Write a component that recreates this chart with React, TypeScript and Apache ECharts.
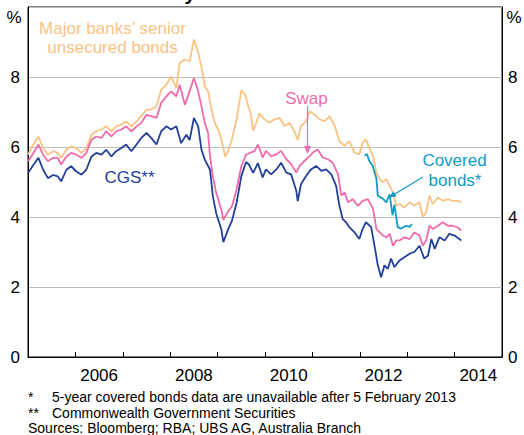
import React, { useEffect, useRef } from "react";
import * as echarts from "echarts";

const FONT = "'Liberation Sans', Arial, Helvetica, sans-serif";

const xTickYears = [2006, 2007, 2008, 2009, 2010, 2011, 2012, 2013, 2014];
const xLabelPositions = [2006.5, 2008.5, 2010.5, 2012.5, 2014.5];
const yTicks = [0, 2, 4, 6, 8];

const majorBanks: [number, number][] = [
  [2005.0, 5.78], [2005.07, 5.97], [2005.22, 6.3], [2005.32, 5.97], [2005.42, 5.78], [2005.53, 5.88],
  [2005.63, 5.83], [2005.7, 5.69], [2005.81, 5.92], [2005.91, 6.02], [2006.02, 5.97], [2006.13, 5.83],
  [2006.23, 5.97], [2006.34, 6.35], [2006.44, 6.45], [2006.55, 6.5], [2006.65, 6.59], [2006.76, 6.45],
  [2006.86, 6.59], [2006.97, 6.64], [2007.07, 6.73], [2007.18, 6.59], [2007.29, 6.73], [2007.39, 6.88],
  [2007.5, 7.07], [2007.6, 7.07], [2007.71, 7.16], [2007.81, 7.64], [2007.92, 7.78], [2008.02, 8.02],
  [2008.13, 7.69], [2008.2, 8.4], [2008.31, 8.5], [2008.41, 8.45], [2008.5, 9.07], [2008.59, 8.69],
  [2008.66, 8.3], [2008.73, 7.73], [2008.8, 7.59], [2008.87, 7.07], [2008.94, 6.69], [2009.01, 6.5],
  [2009.08, 6.21], [2009.16, 5.72], [2009.22, 5.88], [2009.3, 6.21], [2009.4, 6.78], [2009.5, 7.62],
  [2009.58, 7.5], [2009.64, 7.2], [2009.7, 6.95], [2009.75, 6.47], [2009.82, 6.7], [2009.88, 6.96],
  [2009.99, 6.79], [2010.09, 6.69], [2010.2, 6.79], [2010.31, 6.83], [2010.41, 6.6], [2010.52, 6.69],
  [2010.62, 6.45], [2010.69, 6.2], [2010.76, 6.6], [2010.87, 6.74], [2010.94, 7.02], [2011.04, 6.93],
  [2011.15, 6.79], [2011.26, 6.74], [2011.36, 6.88], [2011.47, 6.6], [2011.57, 6.17], [2011.68, 6.03],
  [2011.78, 6.17], [2011.89, 5.84], [2011.99, 5.79], [2012.06, 6.12], [2012.13, 6.22], [2012.2, 5.98],
  [2012.28, 5.74], [2012.35, 5.27], [2012.42, 5.08], [2012.49, 4.99], [2012.56, 5.08], [2012.63, 4.89],
  [2012.7, 4.7], [2012.77, 4.32], [2012.84, 4.37], [2012.94, 4.27], [2013.05, 4.42], [2013.15, 4.32],
  [2013.26, 4.42], [2013.33, 3.99], [2013.4, 4.13], [2013.47, 4.61], [2013.54, 4.37], [2013.65, 4.56],
  [2013.75, 4.46], [2013.86, 4.51], [2013.96, 4.46], [2014.07, 4.46], [2014.14, 4.42],
];

const swap: [number, number][] = [
  [2005.0, 5.59], [2005.07, 5.73], [2005.22, 6.07], [2005.32, 5.78], [2005.42, 5.59], [2005.53, 5.69],
  [2005.63, 5.69], [2005.7, 5.5], [2005.81, 5.73], [2005.91, 5.83], [2006.02, 5.78], [2006.13, 5.69],
  [2006.23, 5.83], [2006.34, 6.21], [2006.44, 6.3], [2006.55, 6.26], [2006.65, 6.45], [2006.76, 6.3],
  [2006.86, 6.45], [2006.97, 6.5], [2007.07, 6.59], [2007.18, 6.45], [2007.29, 6.59], [2007.39, 6.69],
  [2007.5, 6.92], [2007.6, 6.88], [2007.71, 6.83], [2007.81, 7.26], [2007.92, 7.45], [2008.02, 7.59],
  [2008.13, 7.45], [2008.2, 7.78], [2008.31, 7.21], [2008.41, 7.59], [2008.5, 7.97], [2008.59, 7.59],
  [2008.66, 7.16], [2008.73, 6.69], [2008.8, 6.4], [2008.84, 5.73], [2008.9, 5.16], [2008.97, 4.69],
  [2009.08, 4.21], [2009.12, 3.92], [2009.22, 4.16], [2009.3, 4.3], [2009.4, 4.78], [2009.5, 5.45],
  [2009.6, 5.78], [2009.68, 5.83], [2009.78, 5.88], [2009.85, 6.07], [2009.95, 5.7], [2010.02, 5.89],
  [2010.13, 5.74], [2010.24, 5.79], [2010.34, 5.89], [2010.45, 5.65], [2010.55, 5.51], [2010.66, 5.27],
  [2010.73, 5.46], [2010.83, 5.6], [2010.94, 5.74], [2011.01, 5.84], [2011.11, 5.93], [2011.22, 5.7],
  [2011.33, 5.65], [2011.43, 5.55], [2011.54, 5.22], [2011.61, 4.61], [2011.68, 4.7], [2011.75, 4.42],
  [2011.85, 4.51], [2011.96, 4.32], [2012.06, 4.46], [2012.17, 4.51], [2012.28, 4.23], [2012.35, 3.66],
  [2012.42, 3.56], [2012.49, 3.47], [2012.56, 3.42], [2012.63, 3.52], [2012.7, 3.18], [2012.77, 3.33],
  [2012.84, 3.33], [2012.94, 3.42], [2013.05, 3.37], [2013.15, 3.56], [2013.26, 3.47], [2013.33, 3.18],
  [2013.4, 3.33], [2013.47, 3.75], [2013.54, 3.66], [2013.65, 3.75], [2013.75, 3.85], [2013.86, 3.75],
  [2013.96, 3.75], [2014.07, 3.7], [2014.14, 3.61],
];

const cgs: [number, number][] = [
  [2005.0, 5.26], [2005.07, 5.4], [2005.22, 5.69], [2005.32, 5.35], [2005.42, 5.11], [2005.53, 5.2],
  [2005.63, 5.16], [2005.7, 5.02], [2005.81, 5.35], [2005.91, 5.45], [2006.02, 5.3], [2006.13, 5.21],
  [2006.23, 5.35], [2006.34, 5.73], [2006.44, 5.83], [2006.55, 5.78], [2006.65, 5.92], [2006.76, 5.73],
  [2006.86, 5.88], [2006.97, 5.97], [2007.07, 6.07], [2007.18, 5.88], [2007.29, 6.07], [2007.39, 6.26],
  [2007.5, 6.4], [2007.6, 6.26], [2007.71, 6.07], [2007.81, 6.45], [2007.92, 6.59], [2008.02, 6.5],
  [2008.13, 6.59], [2008.23, 6.11], [2008.34, 6.35], [2008.41, 6.2], [2008.5, 6.83], [2008.59, 6.59],
  [2008.66, 5.92], [2008.73, 5.64], [2008.84, 5.35], [2008.9, 4.59], [2008.97, 4.11], [2009.08, 3.64],
  [2009.12, 3.28], [2009.22, 3.64], [2009.3, 3.88], [2009.4, 4.4], [2009.5, 5.16], [2009.6, 5.57],
  [2009.66, 5.5], [2009.75, 5.26], [2009.85, 5.54], [2009.95, 5.13], [2010.02, 5.36], [2010.13, 5.22],
  [2010.24, 5.36], [2010.34, 5.55], [2010.45, 5.27], [2010.55, 5.22], [2010.66, 4.75], [2010.69, 4.45],
  [2010.76, 4.94], [2010.87, 5.18], [2010.97, 5.36], [2011.08, 5.46], [2011.19, 5.32], [2011.29, 5.36],
  [2011.4, 5.22], [2011.5, 4.89], [2011.57, 4.32], [2011.64, 3.94], [2011.71, 3.85], [2011.78, 3.71],
  [2011.89, 3.56], [2011.99, 3.37], [2012.06, 3.66], [2012.13, 3.85], [2012.24, 3.71], [2012.31, 3.18],
  [2012.38, 2.62], [2012.45, 2.28], [2012.52, 2.62], [2012.59, 2.52], [2012.66, 2.81], [2012.73, 2.57],
  [2012.84, 2.76], [2012.94, 2.85], [2013.05, 2.95], [2013.15, 3.0], [2013.26, 3.18], [2013.36, 2.81],
  [2013.44, 2.9], [2013.51, 3.37], [2013.58, 3.09], [2013.68, 3.42], [2013.79, 3.33], [2013.89, 3.52],
  [2014.0, 3.47], [2014.1, 3.37], [2014.14, 3.33],
];

const covered: [number, number][] = [
  [2012.1, 5.76], [2012.15, 5.8], [2012.2, 5.6], [2012.27, 5.47], [2012.35, 5.1], [2012.38, 4.61],
  [2012.48, 4.53], [2012.56, 4.42], [2012.63, 4.65], [2012.69, 4.05], [2012.73, 4.35], [2012.8, 3.71],
  [2012.87, 3.67], [2012.98, 3.75], [2013.05, 3.72], [2013.1, 3.8],
];

const COLORS = {
  major: "#FAC283",
  swap: "#EF6BAA",
  cgs: "#22409A",
  covered: "#0E9CC4",
};

const footnotes = [
  { mark: "*", text: "5-year covered bonds data are unavailable after 5 February 2013" },
  { mark: "**", text: "Commonwealth Government Securities" },
];
const sources = "Sources: Bloomberg; RBA; UBS AG, Australia Branch";

export default function App() {
  const ref = useRef<HTMLDivElement>(null);
  useEffect(() => {
    if (!ref.current) return;
    const chart = echarts.init(ref.current, undefined, { renderer: "svg" });
    const axisLabelStyle = { color: "#000", fontSize: 17, fontFamily: FONT };
    const lineSeries = (name: string, data: [number, number][], color: string) => ({
      name,
      type: "line",
      data,
      showSymbol: false,
      symbol: "none",
      lineStyle: { color, width: 1.8 },
      itemStyle: { color },
      z: 3,
    });
    const txt = (x: number, y: number, text: string, color: string, size: number, align = "left", extra: any = {}) => ({
      type: "text",
      x,
      y,
      style: { text, fill: color, fontSize: size, fontFamily: FONT, textAlign: align, textVerticalAlign: "middle", ...extra },
      z: 10,
    });
    chart.setOption({
      animation: false,
      grid: { left: 28, right: 22, top: 7, bottom: 78, show: true, borderColor: "#000", borderWidth: 1, backgroundColor: "transparent" },
      xAxis: {
        type: "value",
        min: 2005,
        max: 2015,
        interval: 1,
        axisLine: { show: true, lineStyle: { color: "#000", width: 1 } },
        axisTick: { show: true, inside: true, length: 5, customValues: xTickYears, lineStyle: { color: "#000" } },
        axisLabel: {
          ...axisLabelStyle,
          margin: 10,
          customValues: xLabelPositions,
          formatter: (v: number) => String(Math.floor(v)),
        },
        splitLine: { show: false },
      },
      yAxis: [
        {
          type: "value",
          min: 0,
          max: 10,
          interval: 2,
          position: "left",
          axisLine: { show: true, lineStyle: { color: "#000" } },
          axisTick: { show: false },
          axisLabel: { ...axisLabelStyle, margin: 8, customValues: yTicks },
          splitLine: { show: true, lineStyle: { color: "#BDBDBD", width: 1 } },
        },
        {
          type: "value",
          min: 0,
          max: 10,
          interval: 2,
          position: "right",
          axisLine: { show: true, lineStyle: { color: "#000" } },
          axisTick: { show: false },
          axisLabel: { ...axisLabelStyle, margin: 6, customValues: yTicks },
          splitLine: { show: false },
        },
      ],
      series: [
        lineSeries("Major banks' senior unsecured bonds", majorBanks, COLORS.major),
        lineSeries("Swap", swap, COLORS.swap),
        lineSeries("Covered bonds", covered, COLORS.covered),
        lineSeries("CGS", cgs, COLORS.cgs),
      ],
      graphic: [
        {
          type: "text",
          x: 265,
          y: 3,
          style: { text: "5-year Interest Rates", fill: "#000", fontSize: 20, fontWeight: "bold", fontFamily: FONT, textAlign: "center", textVerticalAlign: "bottom" },
        },
        txt(14, 17, "%", "#000", 17, "center"),
        txt(514, 17, "%", "#000", 17, "center"),
        txt(112.5, 28, "Major banks\u2019 senior", COLORS.major, 17, "center"),
        txt(112.5, 47, "unsecured bonds", COLORS.major, 17, "center"),
        txt(306.5, 98, "Swap", COLORS.swap, 17, "center"),
        txt(129.5, 177, "CGS**", COLORS.cgs, 17, "center"),
        txt(454.5, 160, "Covered", COLORS.covered, 17, "center"),
        txt(455, 180, "bonds*", COLORS.covered, 17, "center"),
        { type: "line", shape: { x1: 307.5, y1: 106, x2: 307.5, y2: 148 }, style: { stroke: COLORS.swap, lineWidth: 1.2 }, z: 10 },
        { type: "polygon", shape: { points: [[304, 146], [311, 146], [307.5, 154]] }, style: { fill: COLORS.swap }, z: 10 },
        { type: "line", shape: { x1: 423, y1: 177, x2: 394, y2: 194.5 }, style: { stroke: COLORS.covered, lineWidth: 1.2 }, z: 10 },
        { type: "polygon", shape: { points: [[396.6, 196.6], [393.4, 191.2], [389, 197.5]] }, style: { fill: COLORS.covered }, z: 10 },
        ...footnotes.flatMap((f, i) => [
          txt(28, 397 + i * 16, f.mark, "#000", 14, "left"),
          txt(52, 397 + i * 16, f.text, "#000", 14, "left"),
        ]),
        txt(28, 428, sources, "#000", 14, "left"),
      ],
    });
    return () => chart.dispose();
  }, []);
  return <div ref={ref} style={{ position: "fixed", left: 0, top: 0, width: 524, height: 435, background: "#fff" }} />;
}
